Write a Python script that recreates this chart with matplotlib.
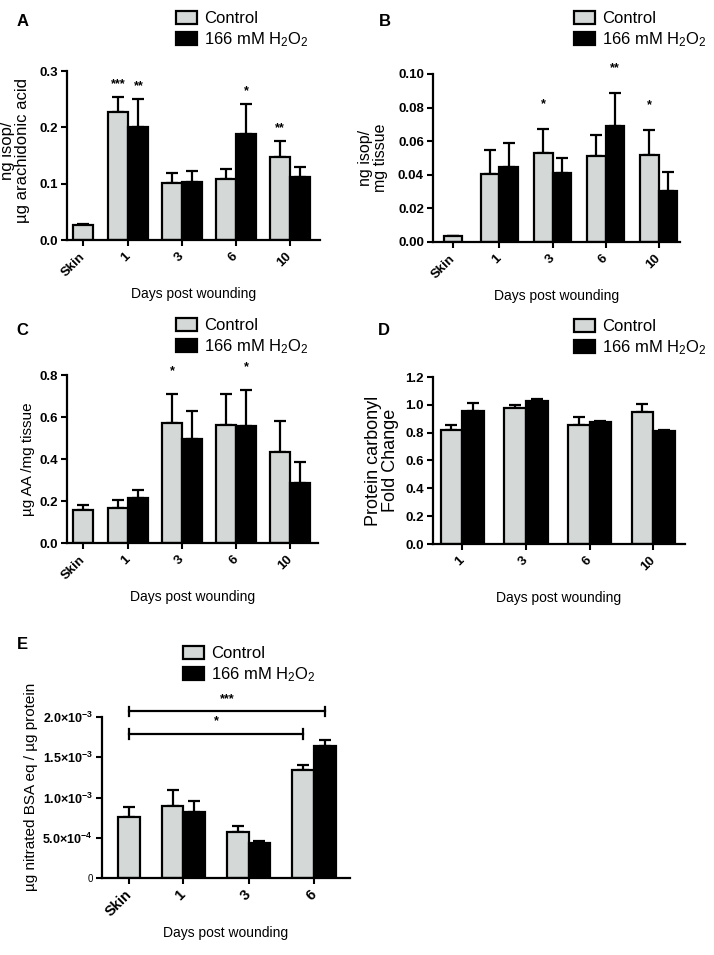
"""
Oxidative damage markers in wounds, control vs 166 mM H2O2 (panels A-E).
"""

import matplotlib
matplotlib.use("Agg")
import matplotlib.pyplot as plt
import numpy as np
from matplotlib.patches import Patch

plt.rcParams['font.family'] = ['Liberation Sans', 'DejaVu Sans']
plt.rcParams['mathtext.fontset'] = 'custom'
plt.rcParams['mathtext.rm'] = 'Liberation Sans'
plt.rcParams['mathtext.it'] = 'Liberation Sans:italic'
plt.rcParams['mathtext.bf'] = 'Liberation Sans:bold'

# -----------------------------------------------------------------------------
# data; Skin has a control bar only

days_abc = ["Skin", "1", "3", "6", "10"]
days_d = ["1", "3", "6", "10"]
days_e = ["Skin", "1", "3", "6"]

# A - ng isop / ug arachidonic acid
a_ctrl = [0.027, 0.227, 0.101, 0.108, 0.147]
a_ctrl_sem = [0.002, 0.027, 0.018, 0.018, 0.029]
a_h2o2 = [0.201, 0.103, 0.188, 0.112]
a_h2o2_sem = [0.050, 0.020, 0.054, 0.017]
a_ctrl_stars = ["", "***", "", "", "**"]
a_h2o2_stars = ["**", "", "*", ""]

# B - ng isop / mg tissue
b_ctrl = [0.0035, 0.0404, 0.0528, 0.0514, 0.0520]
b_ctrl_sem = [0.0003, 0.0142, 0.0143, 0.0125, 0.0147]
b_h2o2 = [0.0444, 0.0408, 0.0691, 0.0303]
b_h2o2_sem = [0.0144, 0.0090, 0.0195, 0.0115]
b_ctrl_stars = ["", "", "*", "", "*"]
b_h2o2_stars = ["", "", "**", ""]

# C - ug AA / mg tissue
c_ctrl = [0.156, 0.167, 0.573, 0.561, 0.431]
c_ctrl_sem = [0.024, 0.037, 0.135, 0.150, 0.151]
c_h2o2 = [0.212, 0.495, 0.558, 0.288]
c_h2o2_sem = [0.039, 0.133, 0.169, 0.098]
c_ctrl_stars = ["", "", "*", "", ""]
c_h2o2_stars = ["", "", "*", ""]

# D - protein carbonyl fold change
d_ctrl = [0.817, 0.977, 0.857, 0.946]
d_ctrl_sem = [0.036, 0.024, 0.053, 0.058]
d_h2o2 = [0.953, 1.025, 0.874, 0.810]
d_h2o2_sem = [0.060, 0.017, 0.010, 0.007]

# E - ug nitrated BSA eq / ug protein
e_ctrl = [7.54e-4, 8.90e-4, 5.71e-4, 1.346e-3]
e_ctrl_sem = [1.28e-4, 1.99e-4, 0.79e-4, 0.62e-4]
e_h2o2 = [8.16e-4, 4.35e-4, 1.636e-3]
e_h2o2_sem = [1.36e-4, 0.20e-4, 0.74e-4]
e_yticks = [0, 5e-4, 1e-3, 1.5e-3, 2e-3]
e_yticklabels = ["0", r"$\mathbf{5.0{\times}10^{-4}}$", r"$\mathbf{1.0{\times}10^{-3}}$",
                 r"$\mathbf{1.5{\times}10^{-3}}$", r"$\mathbf{2.0{\times}10^{-3}}$"]
# (label, from day index ctrl, to day index, to series, height)
e_brackets = [("***", 0, 3, "h2o2", 2.07e-3), ("*", 0, 3, "ctrl", 1.79e-3)]

legend_labels = ["Control", "166 mM H$_2$O$_2$"]
GRAY = "#d4d8d7"
W, H = 714, 955

# -----------------------------------------------------------------------------

fig = plt.figure(figsize=(W / 100, H / 100), dpi=100)


def px_axes(left, top, right, bottom):
    return fig.add_axes([left / W, 1 - bottom / H, (right - left) / W, (bottom - top) / H])


def draw_panel(ax, labels, pos, ctrl, ctrl_sem, h2o2, h2o2_sem, width, skin,
               ctrl_stars=None, h2o2_stars=None, star_pad=10):
    pos = np.asarray(pos, dtype=float)
    if skin:
        xc = np.concatenate([[pos[0]], pos[1:] - width / 2])
        xh = pos[1:] + width / 2
    else:
        xc = pos - width / 2
        xh = pos + width / 2
    for x, v, s, col in ((xc, ctrl, ctrl_sem, GRAY), (xh, h2o2, h2o2_sem, "black")):
        ax.errorbar(x, v, yerr=[np.zeros(len(s)), s], fmt='none', ecolor='black',
                    elinewidth=1.6, capsize=4.3, capthick=1.6, zorder=1)
        ax.bar(x, v, width=width, color=col, edgecolor='black', linewidth=1.6, zorder=2)
    for x, v, s, st in ((xc, ctrl, ctrl_sem, ctrl_stars), (xh, h2o2, h2o2_sem, h2o2_stars)):
        if st is None:
            continue
        for xi, vi, si, t in zip(x, v, s, st):
            if t:
                ax.annotate(t, (xi, vi + si), xytext=(0, star_pad), textcoords='offset points',
                            ha='center', va='center', fontsize=9, fontweight='bold',
                            annotation_clip=False)
    ax.set_xticks(pos)
    ax.set_xticklabels(labels, rotation=45, ha='right', va='center',
                       rotation_mode='anchor', fontweight='bold', fontsize=9.5)
    ax.spines[['top', 'right']].set_visible(False)
    ax.spines[['left', 'bottom']].set_linewidth(1.6)
    ax.tick_params(direction='out', length=4.5, width=1.5, labelsize=9.5, pad=2)
    ax.tick_params(axis='x', pad=6)
    ax.set_xlabel("Days post wounding", fontsize=10)
    return xc, xh


def add_legend(ax, x, y):
    handles = [Patch(facecolor=GRAY, edgecolor='black', linewidth=1.6),
               Patch(facecolor='black', edgecolor='black', linewidth=1.6)]
    ax.legend(handles, legend_labels, loc='upper left', bbox_to_anchor=(x / W, 1 - y / H),
              bbox_transform=fig.transFigure, frameon=False, fontsize=12,
              handlelength=1.25, handleheight=0.8, handletextpad=0.45,
              borderpad=0, borderaxespad=0, labelspacing=0.25)


def set_yticks(ax, ticks, fmt):
    ax.set_yticks(ticks)
    ax.set_yticklabels([fmt.format(t) for t in ticks], fontweight='bold')


skin_pos = [0, 0.84, 1.84, 2.84, 3.84]

# A
ax = px_axes(67, 71, 320, 240)
draw_panel(ax, days_abc, skin_pos, a_ctrl, a_ctrl_sem, a_h2o2, a_h2o2_sem, 0.37, True,
           a_ctrl_stars, a_h2o2_stars, star_pad=9)
ax.set_xlim(-0.30, 4.40)
ax.set_ylim(0, 0.3)
set_yticks(ax, [0, 0.1, 0.2, 0.3], "{:.1f}")
ax.set_ylabel("ng isop/\nµg arachidonic acid", fontsize=12, va='center', linespacing=1.0)
ax.yaxis.set_label_coords(-0.205, 0.53)
ax.xaxis.set_label_coords(0.5, -0.28)
add_legend(ax, 176, 11)
fig.text(23 / W, 1 - 22 / H, "A", fontsize=12, fontweight='bold', ha='center', va='center')

# B
ax = px_axes(433, 74, 680, 242)
draw_panel(ax, days_abc, [0, 0.87, 1.87, 2.87, 3.87], b_ctrl, b_ctrl_sem, b_h2o2, b_h2o2_sem,
           0.35, True, b_ctrl_stars, b_h2o2_stars, star_pad=18)
ax.set_xlim(-0.38, 4.27)
ax.set_ylim(0, 0.10)
set_yticks(ax, [0, 0.02, 0.04, 0.06, 0.08, 0.10], "{:.2f}")
ax.set_ylabel("ng isop/\nmg tissue", fontsize=11.5, va='center', linespacing=1.0)
ax.yaxis.set_label_coords(-0.243, 0.5)
ax.xaxis.set_label_coords(0.5, -0.28)
add_legend(ax, 574, 11)
fig.text(385 / W, 1 - 22 / H, "B", fontsize=12, fontweight='bold', ha='center', va='center')

# C
ax = px_axes(67, 375, 318, 543)
draw_panel(ax, days_abc, skin_pos, c_ctrl, c_ctrl_sem, c_h2o2, c_h2o2_sem, 0.37, True,
           c_ctrl_stars, c_h2o2_stars, star_pad=17)
ax.set_xlim(-0.30, 4.36)
ax.set_ylim(0, 0.8)
set_yticks(ax, [0, 0.2, 0.4, 0.6, 0.8], "{:.1f}")
ax.set_ylabel("µg AA /mg tissue", fontsize=11, va='center')
ax.yaxis.set_label_coords(-0.155, 0.5)
ax.xaxis.set_label_coords(0.5, -0.28)
add_legend(ax, 176, 318)
fig.text(22 / W, 1 - 330 / H, "C", fontsize=12, fontweight='bold', ha='center', va='center')

# D
ax = px_axes(433, 377, 685, 544)
draw_panel(ax, days_d, [0, 1, 2, 3], d_ctrl, d_ctrl_sem, d_h2o2, d_h2o2_sem, 0.34, False)
ax.set_xlim(-0.46, 3.5)
ax.set_ylim(0, 1.2)
set_yticks(ax, [0, 0.2, 0.4, 0.6, 0.8, 1.0, 1.2], "{:.1f}")
ax.set_ylabel("Protein carbonyl\nFold Change", fontsize=13, va='center', linespacing=1.0)
ax.yaxis.set_label_coords(-0.202, 0.5)
ax.xaxis.set_label_coords(0.5, -0.28)
add_legend(ax, 574, 319)
fig.text(384 / W, 1 - 330 / H, "D", fontsize=12, fontweight='bold', ha='center', va='center')

# E
ax = px_axes(102, 717, 350, 878)
xc, xh = draw_panel(ax, days_e, [0, 0.83, 1.83, 2.83], e_ctrl, e_ctrl_sem, e_h2o2, e_h2o2_sem,
                    0.33, True)
ax.set_xlim(-0.415, 3.38)
ax.set_ylim(0, 2e-3)
ax.set_yticks(e_yticks)
ax.set_yticklabels(e_yticklabels, fontsize=9)
ax.get_yticklabels()[0].set_fontsize(7)
for lbl in ax.get_xticklabels():
    lbl.set_fontsize(10.5)
cap = 6e-5
for text, i0, i1, series, y in e_brackets:
    x0 = xc[i0]
    x1 = xh[i1 - 1] if series == "h2o2" else xc[i1]
    ax.plot([x0, x1], [y, y], color='black', lw=1.6, clip_on=False)
    for xe in (x0, x1):
        ax.plot([xe, xe], [y - cap, y + cap], color='black', lw=1.6, clip_on=False)
    ax.annotate(text, ((x0 + x1) / 2, y), xytext=(0, 9), textcoords='offset points',
                ha='center', va='center', fontsize=9, fontweight='bold',
                annotation_clip=False)
ax.set_ylabel("µg nitrated BSA eq / µg protein", fontsize=11, va='center')
ax.yaxis.set_label_coords(-0.286, 0.565)
ax.xaxis.set_label_coords(0.5, -0.30)
add_legend(ax, 183, 646)
fig.text(22 / W, 1 - 644 / H, "E", fontsize=12, fontweight='bold', ha='center', va='center')

fig.savefig("out.png", dpi=100)
